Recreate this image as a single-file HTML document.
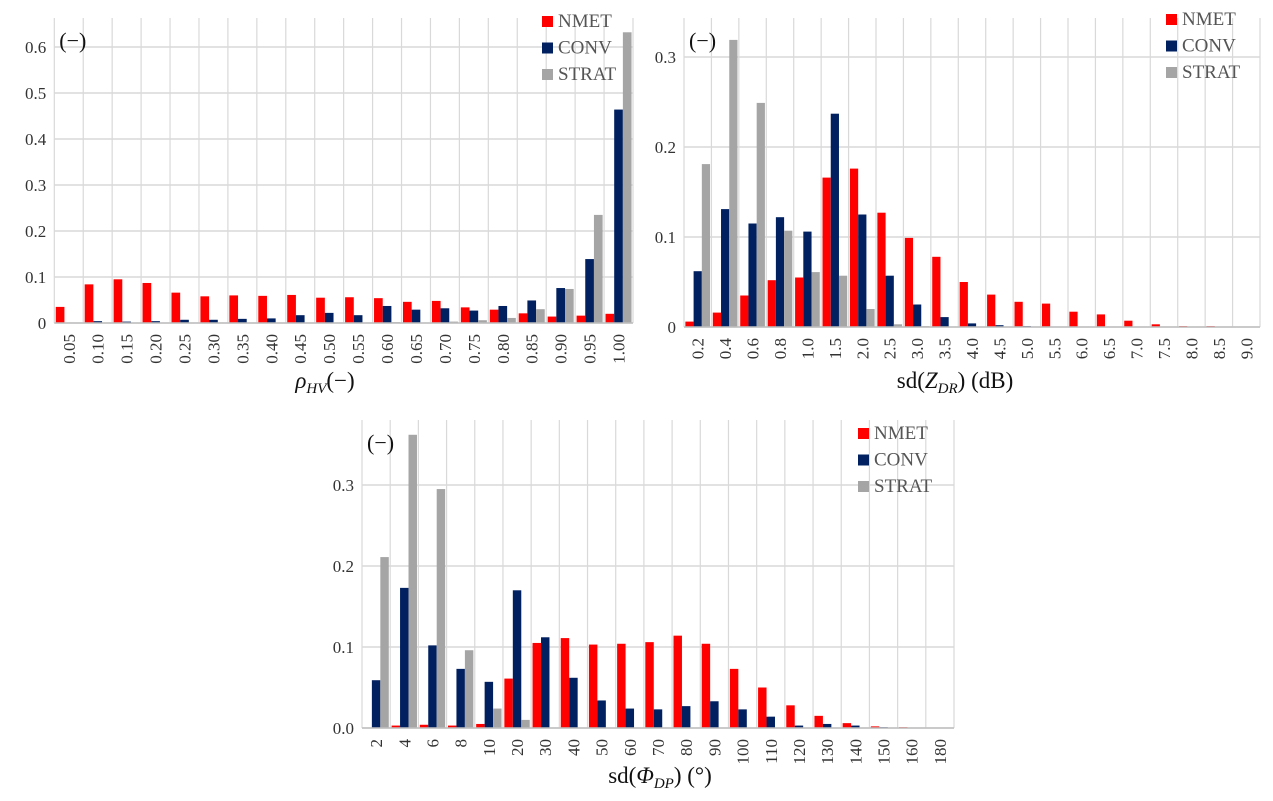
<!DOCTYPE html>
<html><head><meta charset="utf-8">
<style>
html,body{margin:0;padding:0;background:#fff;}
svg{display:block;font-family:"Liberation Serif",serif;}
</style></head>
<body>
<svg id="fig" width="1273" height="801" viewBox="0 0 1273 801"></svg>
<script>
// ---- Chart 1: rhoHV ----
const cats1 = ["0.05","0.10","0.15","0.20","0.25","0.30","0.35","0.40","0.45","0.50","0.55","0.60","0.65","0.70","0.75","0.80","0.85","0.90","0.95","1.00"];
const nmet1 = [0.035,0.084,0.095,0.087,0.066,0.058,0.060,0.059,0.061,0.055,0.056,0.054,0.046,0.048,0.034,0.029,0.021,0.014,0.016,0.020];
const conv1 = [0,0.004,0.003,0.004,0.007,0.007,0.009,0.010,0.017,0.022,0.017,0.037,0.029,0.032,0.027,0.037,0.049,0.076,0.139,0.464];
const strat1 = [0,0,0,0,0,0,0,0,0,0,0,0.002,0.001,0.003,0.006,0.011,0.030,0.074,0.235,0.632];
const ticks1 = [0,0.1,0.2,0.3,0.4,0.5,0.6];
const tickLabels1 = ["0","0.1","0.2","0.3","0.4","0.5","0.6"];
// ---- Chart 2: sd(ZDR) ----
const cats2 = ["0.2","0.4","0.6","0.8","1.0","1.5","2.0","2.5","3.0","3.5","4.0","4.5","5.0","5.5","6.0","6.5","7.0","7.5","8.0","8.5","9.0"];
const nmet2 = [0.006,0.016,0.035,0.052,0.055,0.166,0.176,0.127,0.099,0.078,0.050,0.036,0.028,0.026,0.017,0.014,0.007,0.003,0.001,0.001,0.0005];
const conv2 = [0.062,0.131,0.115,0.122,0.106,0.237,0.125,0.057,0.025,0.011,0.004,0.002,0.001,0,0,0,0,0,0,0,0];
const strat2 = [0.181,0.319,0.249,0.107,0.061,0.057,0.020,0.003,0.001,0,0,0,0,0,0,0,0,0,0,0,0];
const ticks2 = [0,0.1,0.2,0.3];
const tickLabels2 = ["0","0.1","0.2","0.3"];
// ---- Chart 3: sd(PhiDP) ----
const cats3 = ["2","4","6","8","10","20","30","40","50","60","70","80","90","100","110","120","130","140","150","160","180"];
const nmet3 = [0,0.003,0.004,0.003,0.005,0.061,0.105,0.111,0.103,0.104,0.106,0.114,0.104,0.073,0.050,0.028,0.015,0.006,0.002,0.001,0];
const conv3 = [0.059,0.173,0.102,0.073,0.057,0.170,0.112,0.062,0.034,0.024,0.023,0.027,0.033,0.023,0.014,0.003,0.005,0.003,0.001,0,0];
const strat3 = [0.211,0.362,0.295,0.096,0.024,0.010,0,0,0,0,0,0,0,0,0,0,0,0,0,0,0];
const ticks3 = [0,0.1,0.2,0.3];
const tickLabels3 = ["0.0","0.1","0.2","0.3"];

const NS="http://www.w3.org/2000/svg";
const svg=document.getElementById('fig');
const COLORS=["#ff0000","#002060","#a5a5a5"];
const NAMES=["NMET","CONV","STRAT"];
function mk(tag,attrs,parent){const e=document.createElementNS(NS,tag);for(const k in attrs)e.setAttribute(k,attrs[k]);(parent||svg).appendChild(e);return e;}

function chart(id,cfg,cats,series,ticks,tickLabels){
  const g=mk('g',{});
  
  
  const n=cats.length, w=(cfg.right-cfg.left)/n;
  const y=v=>cfg.base-v*cfg.pxPerUnit;
  const x=i=>cfg.left+i*w;
  ticks.forEach((t,k)=>{
    const l=mk('line',{x1:cfg.left,x2:cfg.right,y1:y(t),y2:y(t),stroke:"#d9d9d9","stroke-width":1.5},g);
    
    
    const tx=mk('text',{x:cfg.left-8,y:y(t)+6,"text-anchor":"end","font-size":17,fill:"#333"},g);
    tx.textContent=tickLabels[k];
    
    
  });
  for(let i=0;i<=n;i++){
    const l=mk('line',{x1:x(i),x2:x(i),y1:cfg.top,y2:cfg.base,stroke:"#d9d9d9","stroke-width":1.2},g);
    
    
  }
  const bw=w*0.3;
  series.forEach((s,si)=>{
    s.forEach((v,i)=>{
      const h=v*cfg.pxPerUnit;
      const r=mk('rect',{x:x(i)+w*0.05+si*bw,y:y(v),width:bw,height:h,fill:COLORS[si]},g);
      
      
    });
  });
  const ax=mk('line',{x1:cfg.left,x2:cfg.right,y1:cfg.base,y2:cfg.base,stroke:"#bfbfbf","stroke-width":1.5},g);
  
  
  cats.forEach((c,i)=>{
    const cx=x(i)+w/2+6, cy=cfg.base+11;
    const t=mk('text',{x:cx,y:cy,"text-anchor":"end","font-size":17,fill:"#333",transform:`rotate(-90 ${cx} ${cy})`},g);
    t.textContent=c;
    
    
  });
  const u=mk('text',{x:cfg.left+5,y:cfg.top+30,"font-size":22,fill:"#111"},g);
  u.textContent="(−)";
  
  
  NAMES.forEach((nm,k)=>{
    const ly=cfg.legY+k*26.5;
    const sq=mk('rect',{x:cfg.legX,y:ly,width:11,height:11,fill:COLORS[k]},g);
    
    
    const t=mk('text',{x:cfg.legX+16,y:ly+11,"font-size":19,fill:"#555"},g);
    t.textContent=nm;
    
    
  });
  const at=mk('text',{x:cfg.titleX,y:cfg.titleY,"text-anchor":"middle","font-size":23,fill:"#111"},g);
  at.innerHTML=cfg.title;
  
  
}

chart('chart-rhohv',{left:54.3,right:633,top:18,base:323,pxPerUnit:460,legX:542,legY:16,titleX:325,titleY:388,
  title:'<tspan font-style="italic">ρ</tspan><tspan font-style="italic" font-size="15" dy="5">HV</tspan><tspan dy="-5">(−)</tspan>'},
  cats1,[nmet1,conv1,strat1],ticks1,tickLabels1);
chart('chart-sdzdr',{left:684,right:1260,top:18,base:327,pxPerUnit:900,legX:1166,legY:14,titleX:955,titleY:388,
  title:'sd(<tspan font-style="italic">Z</tspan><tspan font-style="italic" font-size="15" dy="5">DR</tspan><tspan dy="-5">) (dB)</tspan>'},
  cats2,[nmet2,conv2,strat2],ticks2,tickLabels2);
chart('chart-sdphidp',{left:362,right:954,top:420,base:728,pxPerUnit:810,legX:858,legY:428,titleX:660,titleY:783,
  title:'sd(<tspan font-style="italic">Φ</tspan><tspan font-style="italic" font-size="15" dy="5">DP</tspan><tspan dy="-5">) (°)</tspan>'},
  cats3,[nmet3,conv3,strat3],ticks3,tickLabels3);
</script>
</body></html>
